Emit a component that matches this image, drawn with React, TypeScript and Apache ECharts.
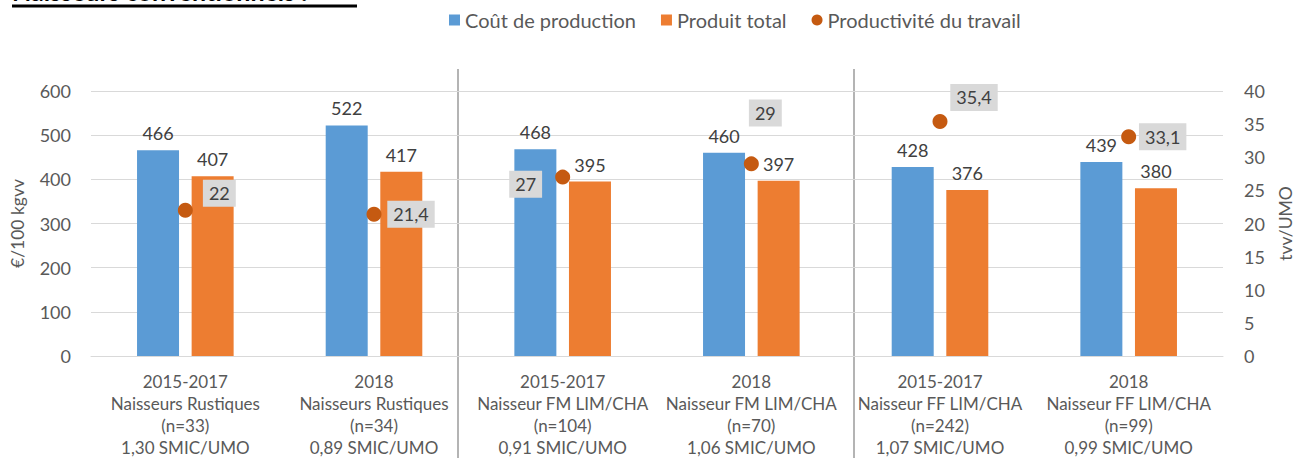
import React, { useEffect, useRef } from "react";
import * as echarts from "echarts";

const categories = [
  "2015-2017\nNaisseurs Rustiques\n(n=33)\n1,30 SMIC/UMO",
  "2018\nNaisseurs Rustiques\n(n=34)\n0,89 SMIC/UMO",
  "2015-2017\nNaisseur FM LIM/CHA\n(n=104)\n0,91 SMIC/UMO",
  "2018\nNaisseur FM LIM/CHA\n(n=70)\n1,06 SMIC/UMO",
  "2015-2017\nNaisseur FF LIM/CHA\n(n=242)\n1,07 SMIC/UMO",
  "2018\nNaisseur FF LIM/CHA\n(n=99)\n0,99 SMIC/UMO",
];
const coutProduction = [466, 522, 468, 460, 428, 439];
const produitTotal = [407, 417, 395, 397, 376, 380];
const productivite = [22, 21.4, 27, 29, 35.4, 33.1];
const leftTicks = { min: 0, max: 600, interval: 100 };
const rightTicks = { min: 0, max: 40, interval: 5 };

// label placement (style only)
const pointLabelOffsets: [number, number][] = [
  [34, -17],
  [37, 0],
  [-37, 7],
  [14, -51],
  [34, -24],
  [34, 0],
];

const FONT = "Lato, 'Open Sans', sans-serif";
const fmt = (v: number) => String(v).replace(".", ",");

export default function App() {
  const ref = useRef<HTMLDivElement>(null);
  useEffect(() => {
    document.body.style.margin = "0";
    const chart = echarts.init(ref.current!, null, { renderer: "svg" });
    chart.setOption({
      animation: false,
      textStyle: { fontFamily: FONT },
      legend: {
        top: 5,
        left: 444,
        itemWidth: 11,
        itemHeight: 11,
        itemGap: 25,
        textStyle: { fontSize: 20, color: "#595959", fontFamily: FONT },
        data: [
          { name: "Coût de production", icon: "rect" },
          { name: "Produit total", icon: "rect" },
          { name: "Productivité du travail", icon: "circle" },
        ],
      },
      grid: { left: 89, right: 70, top: 91, bottom: 102, containLabel: false },
      xAxis: {
        type: "category",
        data: categories,
        axisTick: { show: false },
        axisLine: { lineStyle: { color: "#D9D9D9", width: 1 } },
        axisLabel: {
          color: "#595959",
          fontSize: 17,
          lineHeight: 22,
          margin: 14,
          interval: 0,
          fontFamily: FONT,
        },
      },
      yAxis: [
        {
          type: "value",
          ...leftTicks,
          name: "€/100 kgvv",
          nameLocation: "middle",
          nameGap: 65,
          nameRotate: 90,
          nameTextStyle: { color: "#595959", fontSize: 17.5, fontFamily: FONT },
          axisLabel: { color: "#595959", fontSize: 18, margin: 20, fontFamily: FONT },
          axisLine: { show: false },
          axisTick: { show: false },
          splitLine: { lineStyle: { color: "#D9D9D9", width: 1 } },
        },
        {
          type: "value",
          ...rightTicks,
          name: "tvv/UMO",
          nameLocation: "middle",
          nameGap: 53,
          nameRotate: 90,
          nameTextStyle: { color: "#595959", fontSize: 17.5, fontFamily: FONT },
          axisLabel: { color: "#595959", fontSize: 18, margin: 21, fontFamily: FONT },
          axisLine: { show: false },
          axisTick: { show: false },
          splitLine: { show: false },
        },
      ],
      series: [
        {
          name: "Coût de production",
          type: "bar",
          data: coutProduction,
          barWidth: 42,
          barGap: "30%",
          itemStyle: { color: "#5B9BD5" },
          label: {
            show: true,
            position: "top",
            distance: 8,
            color: "#404040",
            fontSize: 18,
            fontFamily: FONT,
          },
        },
        {
          name: "Produit total",
          type: "bar",
          data: produitTotal,
          barWidth: 42,
          barGap: "30%",
          itemStyle: { color: "#ED7D31" },
          label: {
            show: true,
            position: "top",
            distance: 8,
            color: "#404040",
            fontSize: 18,
            fontFamily: FONT,
          },
        },
        {
          name: "Productivité du travail",
          type: "scatter",
          yAxisIndex: 1,
          symbol: "circle",
          symbolSize: 15,
          z: 5,
          itemStyle: { color: "#C55A11", opacity: 1 },
          data: productivite.map((v, i) => ({
            value: v,
            label: { offset: pointLabelOffsets[i] },
          })),
          label: {
            show: true,
            position: "inside",
            formatter: (p: any) => fmt(p.value),
            color: "#404040",
            fontSize: 18,
            fontFamily: FONT,
            backgroundColor: "#D9D9D9",
            padding: [5, 6, 4, 6],
          },
        },
      ],
      graphic: [
        {
          type: "text",
          left: 12,
          top: -22,
          style: {
            text: "Naisseurs conventionnels :",
            font: `bold 25px ${FONT}`,
            fill: "#000",
          },
        },
        {
          type: "line",
          shape: { x1: 12, y1: 6, x2: 357, y2: 6 },
          style: { stroke: "#000", lineWidth: 3 },
        },
        {
          type: "line",
          shape: { x1: 458, y1: 69, x2: 458, y2: 458 },
          style: { stroke: "#8C8C8C", lineWidth: 1.3 },
        },
        {
          type: "line",
          shape: { x1: 854, y1: 69, x2: 854, y2: 458 },
          style: { stroke: "#8C8C8C", lineWidth: 1.3 },
        },
      ],
    });
    return () => chart.dispose();
  }, []);
  return <div ref={ref} style={{ width: 1302, height: 458 }} />;
}
